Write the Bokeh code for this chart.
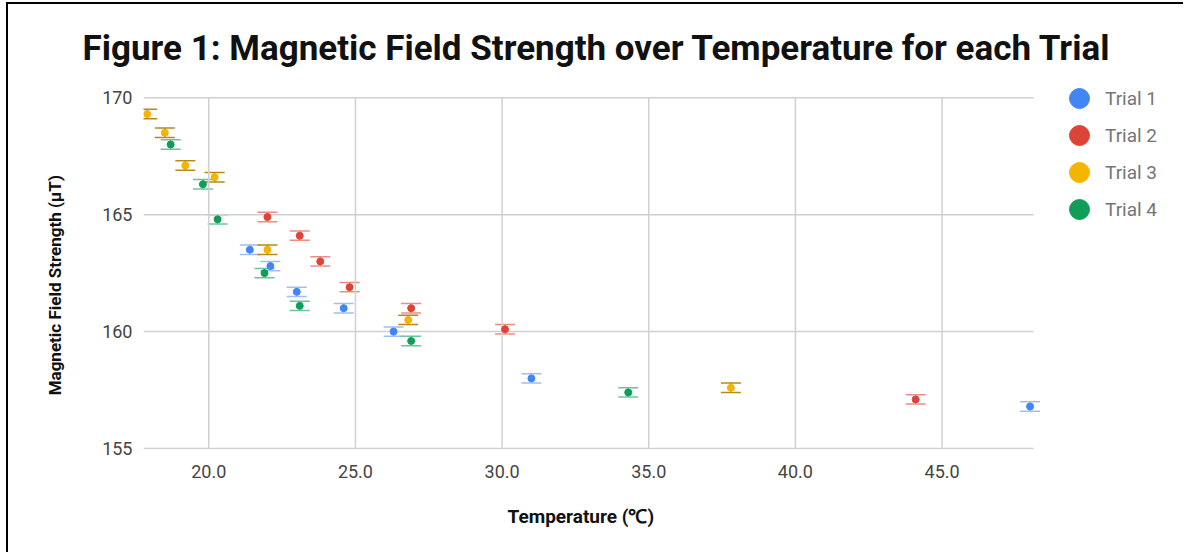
from bokeh.plotting import figure
from bokeh.models import (Range1d, FixedTicker, NumeralTickFormatter, Whisker, TeeHead,
                          ColumnDataSource, Legend, LegendItem, Title)
from bokeh.embed import file_html
from bokeh.resources import INLINE

# ---- data ----
trial_names = ["Trial 1", "Trial 2", "Trial 3", "Trial 4"]
trial1_temp = [21.4, 22.1, 23.0, 24.6, 26.3, 31.0, 48.0]
trial1_field = [163.5, 162.8, 161.7, 161.0, 160.0, 158.0, 156.8]
trial2_temp = [22.0, 23.1, 23.8, 24.8, 26.9, 30.1, 44.1]
trial2_field = [164.9, 164.1, 163.0, 161.9, 161.0, 160.1, 157.1]
trial3_temp = [17.9, 18.5, 19.2, 20.2, 22.0, 26.8, 37.8]
trial3_field = [169.3, 168.5, 167.1, 166.6, 163.5, 160.5, 157.6]
trial4_temp = [18.7, 19.8, 20.3, 21.9, 23.1, 26.9, 34.3]
trial4_field = [168.0, 166.3, 164.8, 162.5, 161.1, 159.6, 157.4]
field_error = [0.2, 0.2, 0.2, 0.2, 0.2, 0.2, 0.2]

x_ticks = [20, 25, 30, 35, 40, 45]
y_ticks = [155, 160, 165, 170]
x_min, x_max = 17.774, 48.12    # extent of the chart area (gridlines)
y_min, y_max = 155, 170

point_colors = ["#4285F4", "#DB4437", "#F4B400", "#0F9D58"]
bar_colors = ["#9fbdf6", "#ee8c84", "#b5891c", "#6cc49a"]
grid_color = "#d0d0d0"

FONT = "Roboto"

p = figure(width=1177, height=550, output_backend="svg", toolbar_location=None,
           x_range=Range1d(x_min, 52.89), y_range=Range1d(y_min - 0.04, 170.99),
           min_border_left=135, min_border_right=12, min_border_top=70, min_border_bottom=105)
p.styles = {"box-shadow": "-2px -2px 0px 0px black", "outline": "none", "border": "none",
            "overflow": "hidden", "background-color": "white",
            "margin-left": "8px", "margin-top": "4px"}
p.outline_line_color = None
p.border_line_color = None
p.background_fill_color = "white"
p.border_fill_color = "white"
p.xgrid.visible = False
p.ygrid.visible = False

# title
p.title.text = "Figure 1: Magnetic Field Strength over Temperature for each Trial"
p.title.align = "left"
p.title.offset = -61
p.title.text_font = FONT
p.title.text_font_style = "bold"
p.title.text_font_size = "35px"
p.title.text_color = "#111111"
p.title.standoff = 12

# axes
p.xaxis.ticker = FixedTicker(ticks=x_ticks)
p.xaxis.formatter = NumeralTickFormatter(format="0.0")
p.yaxis.ticker = FixedTicker(ticks=y_ticks)
for ax in (p.xaxis, p.yaxis):
    ax.axis_line_color = None
    ax.major_tick_line_color = None
    ax.minor_tick_line_color = None
    ax.major_tick_out = 0
    ax.major_tick_in = 0
    ax.major_label_text_font = FONT
    ax.major_label_text_font_size = "18px"
    ax.major_label_text_color = "#444444"
    ax.axis_label_text_font = FONT
    ax.axis_label_text_font_style = "bold"
    ax.axis_label_text_color = "#111111"
p.xaxis.major_label_standoff = 15
p.yaxis.major_label_standoff = 11
p.yaxis.axis_label = "Magnetic Field Strength (µT)" + "\u00a0" * 11
p.yaxis.axis_label_text_font_size = "17px"
p.yaxis.axis_label_standoff = 34

p.add_layout(Title(text="Temperature (℃)", align="left", offset=364, text_font=FONT,
                   text_font_size="19px", text_font_style="bold", text_color="#111111",
                   standoff=44), "below")

# gridlines limited to the chart area
p.segment(x0=[x_min] * len(y_ticks), y0=y_ticks, x1=[x_max] * len(y_ticks), y1=y_ticks,
          line_color=grid_color, line_width=1.5)
p.segment(x0=x_ticks, y0=[y_min] * len(x_ticks), x1=x_ticks, y1=[y_max] * len(x_ticks),
          line_color=grid_color, line_width=1.5)

temps = [trial1_temp, trial2_temp, trial3_temp, trial4_temp]
fields = [trial1_field, trial2_field, trial3_field, trial4_field]

renderers = []
for t, f, pc, bc in zip(temps, fields, point_colors, bar_colors):
    src = ColumnDataSource(dict(x=t, y=f,
                                upper=[v + e for v, e in zip(f, field_error)],
                                lower=[v - e for v, e in zip(f, field_error)]))
    w = Whisker(source=src, base="x", upper="upper", lower="lower", dimension="height",
                line_color=bc, line_width=1.5,
                upper_head=TeeHead(size=20, line_color=bc, line_width=1.5),
                lower_head=TeeHead(size=20, line_color=bc, line_width=1.5))
    p.add_layout(w)
    r = p.scatter("x", "y", source=src, size=7, fill_color=pc, line_color=pc)
    renderers.append(r)

legend_style = dict(glyph_width=50, glyph_height=50, spacing=24, padding=0, margin=0,
                    label_standoff=1, border_line_color=None, background_fill_alpha=0,
                    label_text_font=FONT, label_text_font_size="19px",
                    label_text_color="#757575")
legend_a = Legend(items=[LegendItem(label=trial_names[i], renderers=[renderers[i]]) for i in (0, 2)],
                  location=(911, 252), **legend_style)
legend_b = Legend(items=[LegendItem(label=trial_names[i], renderers=[renderers[i]]) for i in (1, 3)],
                  location=(911, 215), **legend_style)
p.add_layout(legend_a)
p.add_layout(legend_b)

open("out.html", "w").write(file_html(p, INLINE))
